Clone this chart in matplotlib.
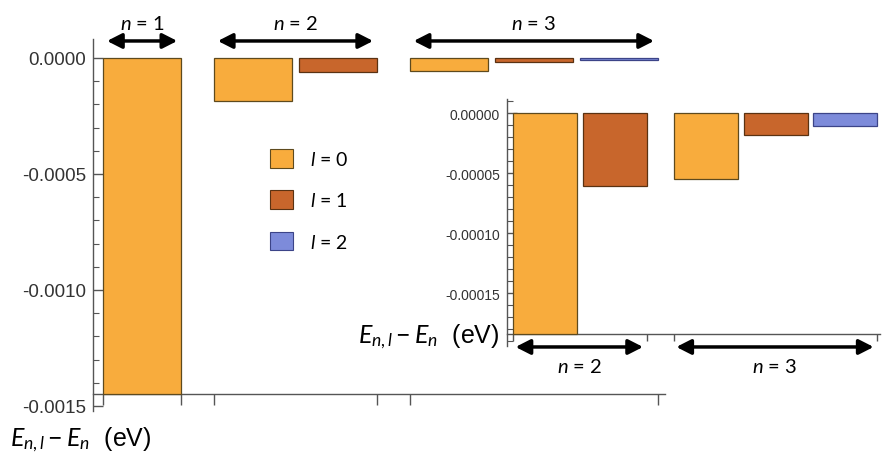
import matplotlib
matplotlib.use("Agg")
import matplotlib.pyplot as plt
from matplotlib.ticker import MultipleLocator, FormatStrFormatter, NullFormatter

plt.rcParams['mathtext.fontset'] = 'custom'
plt.rcParams['mathtext.it'] = 'Lato:italic'
plt.rcParams['mathtext.rm'] = 'Lato'
plt.rcParams['axes.unicode_minus'] = False

# energy shift E_{n,l} - E_n in eV, one list per shell, ordered by l
n_values = [1, 2, 3]
shift_n1 = [-0.00145]
shift_n2 = [-0.000184, -0.000061]
shift_n3 = [-0.000055, -0.0000183, -0.000011]
l_labels = ['0', '1', '2']

l_colors = ['#F8AC3D', '#C8662C', '#7D8BDA']
l_edges = ['#5e4a1e', '#5a3212', '#3c4488']
axis_grey = '#555555'
text_grey = '#333333'


def group_lefts(groups, gap_in=0.09, gap_out=0.42):
    lefts = []
    x = 0.0
    for g in groups:
        row = []
        for _ in g:
            row.append(x)
            x += 1.0 + gap_in
        x += gap_out - gap_in
        lefts.append(row)
    return lefts


def draw_bars(ax, groups):
    lefts = group_lefts(groups)
    for row, vals in zip(lefts, groups):
        for l, (x, v) in enumerate(zip(row, vals)):
            ax.bar(x, v, width=1.0, align='edge', color=l_colors[l],
                   edgecolor=l_edges[l], linewidth=0.9, zorder=3)
    edges = []
    for row in lefts:
        edges += [row[0], row[-1] + 1.0]
    return lefts, edges


def style_axes(ax, origin, major, minor, fmt, size):
    for s in ['top', 'right']:
        ax.spines[s].set_visible(False)
    ax.spines['bottom'].set_position(('data', origin))
    for s in ['left', 'bottom']:
        ax.spines[s].set_color(axis_grey)
        ax.spines[s].set_linewidth(1.0)
    ax.yaxis.set_major_locator(MultipleLocator(major))
    ax.yaxis.set_minor_locator(MultipleLocator(minor))
    ax.yaxis.set_major_formatter(FormatStrFormatter(fmt))
    ax.tick_params(axis='y', which='major', direction='in', length=7,
                   width=1, color=axis_grey, labelsize=size,
                   labelcolor=text_grey, pad=5)
    ax.tick_params(axis='y', which='minor', direction='in', length=4,
                   width=0.8, color=axis_grey)
    ax.tick_params(axis='x', which='major', direction='out', length=8,
                   width=1, color=axis_grey)
    ax.xaxis.set_major_formatter(NullFormatter())
    for t in ax.get_yticklabels():
        t.set_family('Liberation Sans')


fig = plt.figure(figsize=(8.84, 4.64), dpi=100)

# main chart: all three shells
ax = fig.add_axes([0.1052, 0.112, 0.647, 0.802])
main_groups = [shift_n1, shift_n2, shift_n3]
lefts, edges = draw_bars(ax, main_groups)
ax.set_xlim(-0.13, 7.2)
ax.set_ylim(-0.001522, 0.0000819)
ax.set_xticks(edges)
style_axes(ax, min(shift_n1 + shift_n2 + shift_n3), 0.0005, 0.0001, '%.4f', 13.5)

arrow = dict(arrowstyle='<|-|>,head_length=0.55,head_width=0.28',
             mutation_scale=16, lw=2.5, color='black', shrinkA=0, shrinkB=0)
for n, row in zip(n_values, lefts):
    x0, x1 = row[0] + 0.05, row[-1] + 1.0 - 0.05
    ax.annotate('', xy=(x0, 0.000073), xytext=(x1, 0.000073),
                arrowprops=arrow, annotation_clip=False)
    ax.text((x0 + x1) / 2, 0.000151, r'$n$ = %d' % n, ha='center',
            va='center', fontsize=14.5, family='Lato', clip_on=False)

handles = [plt.Rectangle((0, 0), 1, 1, facecolor=c, edgecolor=e, lw=0.8)
           for c, e in zip(l_colors, l_edges)]
fig.legend(handles, [r'$l$ = ' + s for s in l_labels], loc='upper left',
           bbox_to_anchor=(270 / 884, 1 - 150 / 464), frameon=False,
           borderpad=0, borderaxespad=0, handlelength=1.2, handleheight=1.1,
           handletextpad=0.85, labelspacing=1.15,
           prop={'family': 'Lato', 'size': 14})

label = r'$E_{n,l} - E_n$  (eV)'
fig.text(10 / 884, 1 - 440 / 464, label,
         fontsize=18, family='Liberation Sans', ha='left', va='center')

# inset: zoom on n = 2 and n = 3
ins = fig.add_axes([0.5735, 0.2522, 0.422, 0.532])
ins.set_facecolor('white')
ins_groups = [shift_n2, shift_n3]
ilefts, iedges = draw_bars(ins, ins_groups)
ins.set_xlim(-0.094, 5.73)
ins.set_ylim(-0.000194, 0.0000117)
ins.set_xticks(iedges)
style_axes(ins, min(shift_n2 + shift_n3), 0.00005, 0.00001, '%.5f', 10)
ins.tick_params(axis='x', which='major', length=5)

for n, row in zip(n_values[1:], ilefts):
    x0, x1 = row[0] + 0.04, row[-1] + 1.0 - 0.06
    ins.annotate('', xy=(x0, -0.004), xytext=(x1, -0.004),
                 xycoords=('data', 'axes fraction'),
                 textcoords=('data', 'axes fraction'),
                 arrowprops=arrow, annotation_clip=False)
    ins.text((x0 + x1) / 2, -0.08, r'$n$ = %d' % n, ha='center', va='center',
             fontsize=14.5, family='Lato', transform=ins.get_xaxis_transform(),
             clip_on=False)

fig.text(499 / 884, 1 - 337 / 464, label,
         fontsize=18, family='Liberation Sans', ha='right', va='center')

fig.savefig('out.png', dpi=100, facecolor='white')
